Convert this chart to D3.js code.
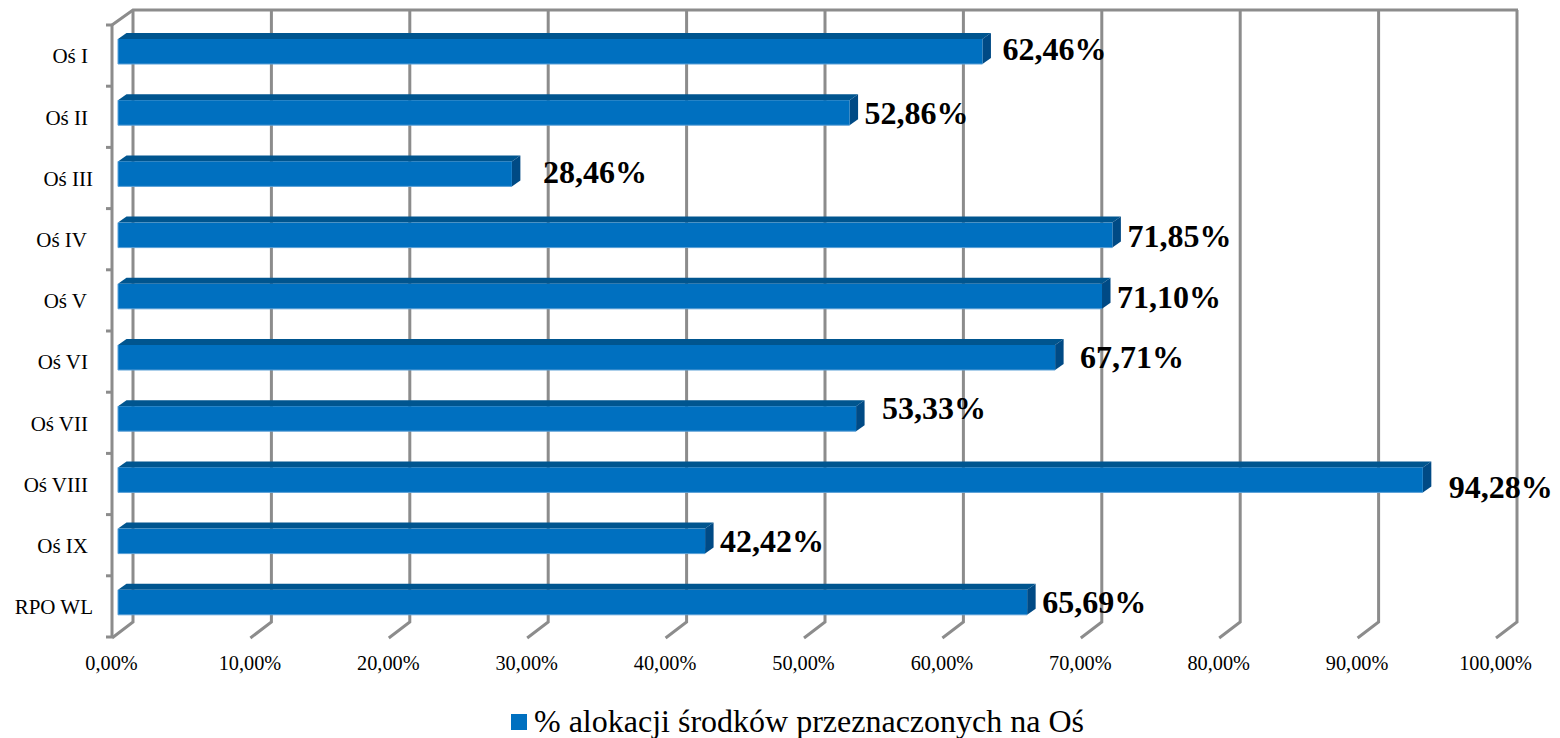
<!DOCTYPE html>
<html>
<head>
<meta charset="utf-8">
<script src="https://cdn.jsdelivr.net/npm/d3@7"></script>
<style>
  html, body { margin: 0; padding: 0; background: #fff; }
  svg { display: block; }
  text { font-family: "Liberation Serif", serif; fill: #000; }
  .grid { stroke: #8c8c8c; stroke-width: 3; fill: none; }
  .axis .domain { display: none; }
  .axis text { font-family: "Liberation Serif", serif; fill: #000; }
  .axis-x text { font-size: 20.3px; }
  .axis-y text { font-size: 21px; }
  .value { font-size: 32px; font-weight: bold; }
  .legend { font-size: 32px; }
</style>
</head>
<body>
<svg id="chart" width="1560" height="738"></svg>
<script>
// data
const categories = ['Oś I', 'Oś II', 'Oś III', 'Oś IV', 'Oś V', 'Oś VI', 'Oś VII', 'Oś VIII', 'Oś IX', 'RPO WL'];
const values = [62.46, 52.86, 28.46, 71.85, 71.10, 67.71, 53.33, 94.28, 42.42, 65.69];
const xTicks = [0, 10, 20, 30, 40, 50, 60, 70, 80, 90, 100];
const seriesName = '% alokacji środków przeznaczonych na Oś';

// hand placed labels in the original, [dx from bar end, dy from bar top]
const labelNudge = [[20, 21], [15, 24], [31, 22], [15, 24], [15, 24], [25, 23], [26, 13], [26, 31], [15, 23], [15, 23]];
// category labels don't share a right edge in the original
const categoryNudge = [0, 0, 5, -1, -1, 0, 0, 0, 0, 5];

// colors
const FRONT = '#0070c0';
const TOP = '#00558f';
const SIDE = '#004a85';
const EDGE = '#5a9fd6';

// dimensions
const PLOT_TOP = 25;
const PLOT_BOTTOM = 637;
const DEPTH_X = 21;
const DEPTH_Y = 15;
const BAR_DX = 8.5;
const BAR_DY = 6;
const BAR_OFFSET = 14;
const BAR_HEIGHT = 25;

const $svg = d3.select('#chart');

// scales
const scaleFloor = d3.scaleLinear().domain([0, 100]).range([112, 1496]);
const scaleBar = d3.scaleLinear().domain([0, 100]).range([118, 1502]);
const scaleY = d3.scaleBand().domain(categories).range([PLOT_TOP, PLOT_BOTTOM]);

// back wall
const $grid = $svg.append('g');
$grid.selectAll('.wall')
  .data(xTicks)
  .join('path')
  .attr('class', 'grid wall')
  .attr('d', (d) => {
    const x = scaleFloor(d);
    return `M${x},${PLOT_BOTTOM + 1}L${x + DEPTH_X},${PLOT_BOTTOM - DEPTH_Y}L${x + DEPTH_X},${PLOT_TOP - DEPTH_Y}`;
  });
$grid.append('path')
  .attr('class', 'grid')
  .attr('d', `M${scaleFloor(0)},${PLOT_TOP}L${scaleFloor(0) + DEPTH_X},${PLOT_TOP - DEPTH_Y}H${scaleFloor(100) + DEPTH_X + 1}`);
$grid.append('path')
  .attr('class', 'grid')
  .attr('d', `M${scaleFloor(0)},${PLOT_TOP}V${PLOT_BOTTOM}`);

// left ticks
$grid.selectAll('.tick-y')
  .data(d3.range(categories.length + 1))
  .join('line')
  .attr('class', 'grid tick-y')
  .attr('stroke-width', 2)
  .attr('x1', scaleFloor(0) - 6)
  .attr('x2', scaleFloor(0))
  .attr('y1', (i) => PLOT_TOP + i * scaleY.step())
  .attr('y2', (i) => PLOT_TOP + i * scaleY.step());

// axes
const axisX = d3.axisBottom(scaleFloor)
  .tickValues(xTicks)
  .tickSize(0)
  .tickPadding(0)
  .tickFormat((d) => d3.format('.2f')(d).replace('.', ',') + '%');
$svg.append('g')
  .attr('class', 'axis axis-x')
  .attr('transform', `translate(-1, ${PLOT_BOTTOM + 18.5})`)
  .call(axisX);

const axisY = d3.axisLeft(scaleY).tickSize(0).tickPadding(0);
$svg.append('g')
  .attr('class', 'axis axis-y')
  .attr('transform', 'translate(88, 1)')
  .call(axisY)
  .call((g) => g.selectAll('.tick text').attr('x', (d, i) => categoryNudge[i]));

// bars
const $bars = $svg.append('g')
  .selectAll('g')
  .data(categories.map((c, i) => ({ c, v: values[i], nudge: labelNudge[i] })))
  .join('g');

$bars.append('path')
  .attr('fill', TOP)
  .attr('d', (d) => {
    const x1 = scaleBar(d.v);
    const y = scaleY(d.c) + BAR_OFFSET;
    return `M${scaleBar(0)},${y}L${scaleBar(0) + BAR_DX},${y - BAR_DY}H${x1 + BAR_DX}L${x1},${y}Z`;
  });

$bars.append('path')
  .attr('fill', SIDE)
  .attr('d', (d) => {
    const x1 = scaleBar(d.v);
    const y = scaleY(d.c) + BAR_OFFSET;
    return `M${x1},${y}L${x1 + BAR_DX},${y - BAR_DY}V${y + BAR_HEIGHT - BAR_DY}L${x1},${y + BAR_HEIGHT}Z`;
  });

$bars.append('rect')
  .attr('fill', FRONT)
  .attr('x', scaleBar(0))
  .attr('y', (d) => scaleY(d.c) + BAR_OFFSET)
  .attr('width', (d) => scaleBar(d.v) - scaleBar(0))
  .attr('height', BAR_HEIGHT);

// thin light edge on the left and bottom of the front face
$bars.append('path')
  .attr('fill', 'none')
  .attr('stroke', EDGE)
  .attr('stroke-width', 1)
  .attr('d', (d) => {
    const y = scaleY(d.c) + BAR_OFFSET;
    return `M${scaleBar(0)},${y}V${y + BAR_HEIGHT}H${scaleBar(d.v)}`;
  });

// value labels
$bars.append('text')
  .attr('class', 'value')
  .attr('x', (d) => scaleBar(d.v) + d.nudge[0])
  .attr('y', (d) => scaleY(d.c) + BAR_OFFSET + d.nudge[1])
  .text((d) => d.v.toFixed(2).replace('.', ',') + '%');

// legend
$svg.append('rect')
  .attr('x', 511)
  .attr('y', 714)
  .attr('width', 16)
  .attr('height', 16)
  .attr('fill', FRONT);
$svg.append('text')
  .attr('class', 'legend')
  .attr('x', 534)
  .attr('y', 732)
  .text(seriesName);
</script>
</body>
</html>
